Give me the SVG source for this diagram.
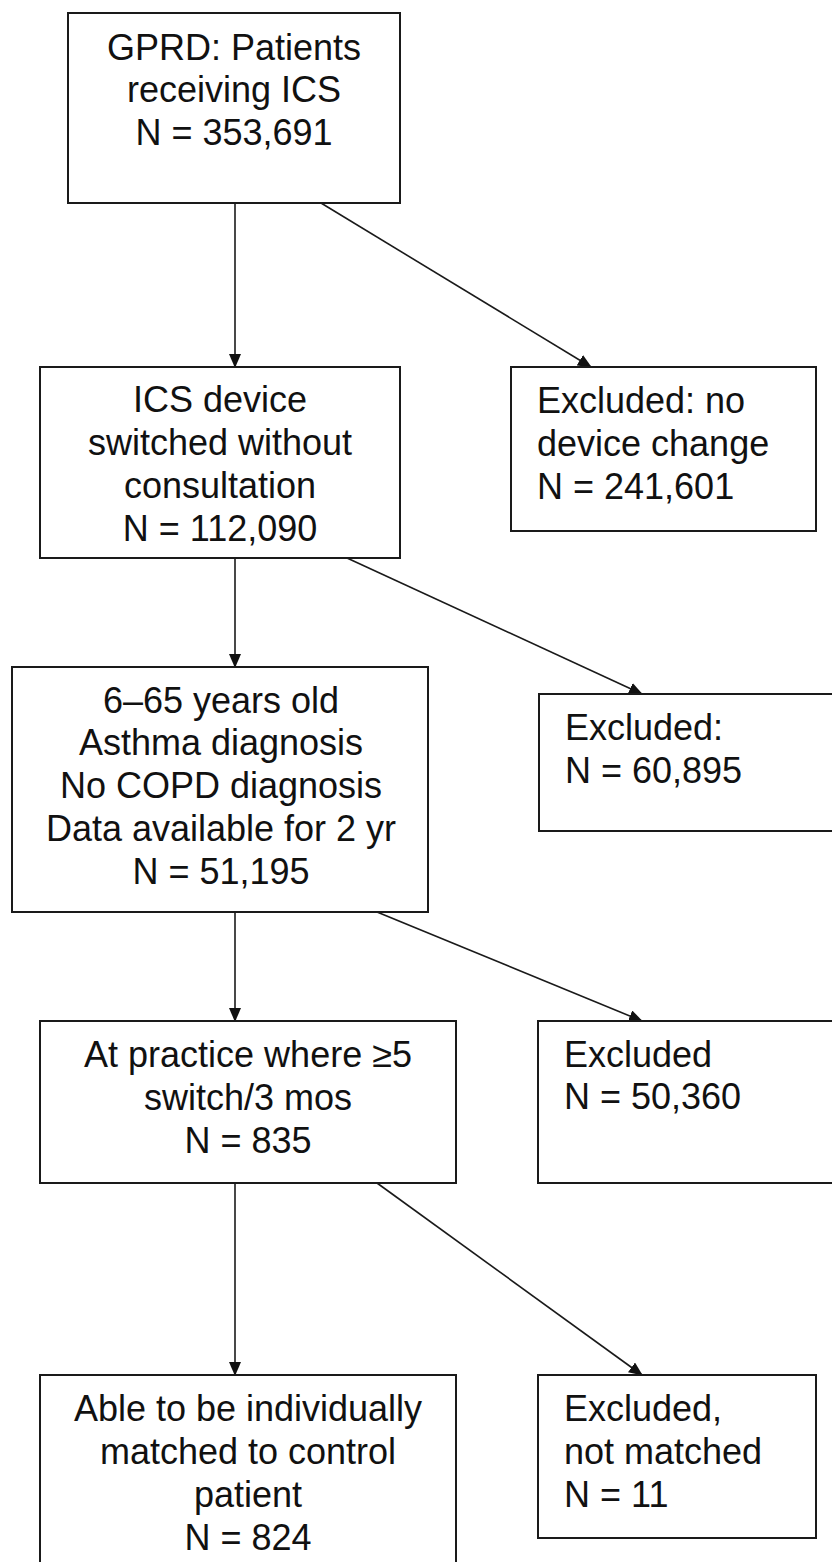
<svg xmlns="http://www.w3.org/2000/svg" width="832" height="1562" viewBox="0 0 832 1562">
<style>
.box{fill:#fff;stroke:#1a1a1a;stroke-width:2}
.t{font-family:"Liberation Sans",Arial,sans-serif;font-size:36px;fill:#111}
.c{text-anchor:middle}
.conn{stroke:#1a1a1a;stroke-width:1.6;fill:none;marker-end:url(#ah)}
</style>
<defs>
<marker id="ah" markerUnits="userSpaceOnUse" markerWidth="14" markerHeight="12" refX="13" refY="6" orient="auto">
<path d="M0,0 L14,6 L0,12 z" fill="#111"/>
</marker>
</defs>
<rect width="832" height="1562" fill="#fff"/>
<g id="connectors">
<line class="conn" x1="235" y1="203" x2="235" y2="367"/>
<line class="conn" x1="321" y1="203" x2="591" y2="367"/>
<line class="conn" x1="235" y1="558" x2="235" y2="667"/>
<line class="conn" x1="347" y1="558" x2="642" y2="694"/>
<line class="conn" x1="235" y1="912" x2="235" y2="1021"/>
<line class="conn" x1="377" y1="912" x2="642" y2="1021"/>
<line class="conn" x1="235" y1="1183" x2="235" y2="1375"/>
<line class="conn" x1="377" y1="1183" x2="642" y2="1375"/>
</g>
<g id="n1">
<rect class="box" x="68" y="13" width="332" height="190"/>
<text class="t c" x="234" y="60">GPRD: Patients</text>
<text class="t c" x="234" y="102">receiving ICS</text>
<text class="t c" x="234" y="145">N = 353,691</text>
</g>
<g id="n2">
<rect class="box" x="40" y="367" width="360" height="191"/>
<text class="t c" x="220" y="412">ICS device</text>
<text class="t c" x="220" y="455">switched without</text>
<text class="t c" x="220" y="498">consultation</text>
<text class="t c" x="220" y="541">N = 112,090</text>
</g>
<g id="e1">
<rect class="box" x="511" y="367" width="305" height="164"/>
<text class="t" x="537" y="413">Excluded: no</text>
<text class="t" x="537" y="456">device change</text>
<text class="t" x="537" y="499">N = 241,601</text>
</g>
<g id="n3">
<rect class="box" x="12" y="667" width="416" height="245"/>
<text class="t c" x="221" y="713">6–65 years old</text>
<text class="t c" x="221" y="755">Asthma diagnosis</text>
<text class="t c" x="221" y="798">No COPD diagnosis</text>
<text class="t c" x="221" y="841">Data available for 2 yr</text>
<text class="t c" x="221" y="884">N = 51,195</text>
</g>
<g id="e2">
<rect class="box" x="539" y="694" width="300" height="137"/>
<text class="t" x="565" y="740">Excluded:</text>
<text class="t" x="565" y="783">N = 60,895</text>
</g>
<g id="n4">
<rect class="box" x="40" y="1021" width="416" height="162"/>
<text class="t c" x="248" y="1067">At practice where ≥5</text>
<text class="t c" x="248" y="1110">switch/3 mos</text>
<text class="t c" x="248" y="1153">N = 835</text>
</g>
<g id="e3">
<rect class="box" x="538" y="1021" width="300" height="162"/>
<text class="t" x="564" y="1067">Excluded</text>
<text class="t" x="564" y="1109">N = 50,360</text>
</g>
<g id="n5">
<rect class="box" x="40" y="1375" width="416" height="200"/>
<text class="t c" x="248" y="1421">Able to be individually</text>
<text class="t c" x="248" y="1464">matched to control</text>
<text class="t c" x="248" y="1507">patient</text>
<text class="t c" x="248" y="1550">N = 824</text>
</g>
<g id="e4">
<rect class="box" x="538" y="1375" width="278" height="163"/>
<text class="t" x="564" y="1421">Excluded,</text>
<text class="t" x="564" y="1464">not matched</text>
<text class="t" x="564" y="1507">N = 11</text>
</g>
</svg>
